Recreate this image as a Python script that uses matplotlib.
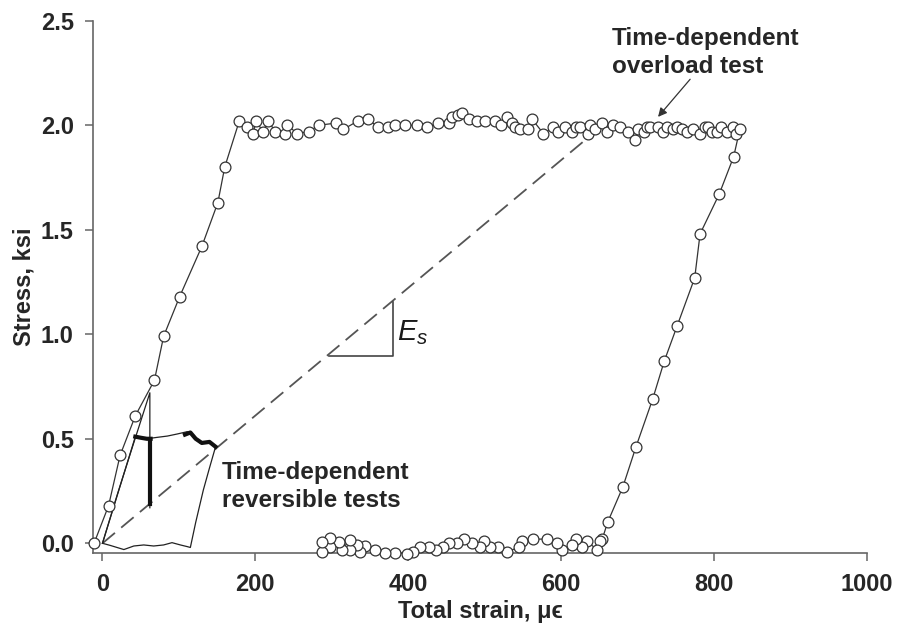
"""Stress vs total strain for time-dependent overload and reversible tests."""

import matplotlib

matplotlib.use("Agg")
import matplotlib.pyplot as plt

# main overload test: loading, hold at 2 ksi, unloading, recovery
load_strain = [-11, 8, 23, 43, 68, 80, 101, 130, 151, 160, 179]
load_stress = [0.00, 0.18, 0.42, 0.61, 0.78, 0.99, 1.18, 1.42, 1.63, 1.80, 2.02]

hold_strain = [189, 197, 201, 210, 217, 226, 239, 242, 255, 270,
               283, 305, 315, 334, 347, 361, 374, 383, 396, 412,
               425, 439, 453, 458, 465, 470, 479, 490, 501, 514,
               522, 529, 536, 540, 547, 557, 562, 577, 590, 596,
               605, 614, 620, 625, 635, 638, 645, 654, 660, 668,
               677, 688, 697, 701, 708, 712, 717, 727, 733, 739,
               747, 752, 759, 765, 773, 782, 788, 793, 798, 804,
               810, 817, 825, 829, 834]
hold_stress = [1.99, 1.96, 2.02, 1.97, 2.02, 1.97, 1.96, 2.00, 1.96, 1.97,
               2.00, 2.01, 1.98, 2.02, 2.03, 1.99, 1.99, 2.00, 2.00, 2.00,
               1.99, 2.01, 2.01, 2.04, 2.05, 2.06, 2.03, 2.02, 2.02, 2.02,
               2.00, 2.04, 2.01, 1.99, 1.98, 1.98, 2.03, 1.96, 1.99, 1.97,
               1.99, 1.97, 1.99, 1.99, 1.96, 2.00, 1.98, 2.01, 1.97, 2.00,
               1.99, 1.97, 1.93, 1.98, 1.97, 1.99, 1.99, 1.99, 1.97, 1.99,
               1.98, 1.99, 1.98, 1.97, 1.98, 1.96, 1.99, 1.99, 1.97, 1.97,
               1.99, 1.97, 1.99, 1.96, 1.98]

unload_strain = [826, 807, 782, 775, 752, 735, 720, 698, 681, 661, 654]
unload_stress = [1.85, 1.67, 1.48, 1.27, 1.04, 0.87, 0.69, 0.46, 0.27, 0.10, 0.02]

recover_strain = [651, 647, 634, 627, 619, 614, 601, 595, 582, 564,
                  549, 545, 529, 518, 507, 499, 494, 484, 473, 464,
                  453, 446, 436, 427, 416, 407, 399, 383, 370, 357,
                  344, 337, 333, 324, 324, 313, 309, 298, 298, 287, 287]
recover_stress = [0.01, -0.03, 0.01, -0.02, 0.02, -0.01, -0.03, 0.00, 0.02, 0.02,
                  0.01, -0.02, -0.04, -0.02, -0.02, 0.01, -0.02, 0.00, 0.02, 0.00,
                  0.00, -0.02, -0.03, -0.02, -0.02, -0.04, -0.05, -0.045, -0.045, -0.03,
                  -0.013, -0.04, -0.008, -0.03, 0.016, -0.03, 0.008, -0.02, 0.024, -0.04,
                  0.008]

# reversible tests (no markers)
rev_a_strain = [0, 20, 40, 62, 62, 62]
rev_a_stress = [0.00, 0.24, 0.47, 0.72, 0.45, 0.17]

rev_b_strain = [0, 43, 58, 72, 85, 98, 111, 119, 128, 137, 148,
                140, 132, 122, 115, 111, 102, 91, 80, 67, 54, 41, 28, 10, 0]
rev_b_stress = [0.00, 0.51, 0.50, 0.507, 0.513, 0.523, 0.534, 0.518, 0.478, 0.486, 0.462,
                0.36, 0.255, 0.10, -0.02, -0.016, -0.008, 0.003, -0.008, -0.013,
                -0.008, -0.013, -0.03, -0.01, 0.00]

heavy_1_strain = [43, 50, 58, 63]
heavy_1_stress = [0.51, 0.505, 0.50, 0.50]
heavy_2_strain = [62, 62]
heavy_2_stress = [0.49, 0.19]
heavy_3_strain = [108, 115, 122, 130, 140, 148]
heavy_3_stress = [0.52, 0.53, 0.50, 0.48, 0.485, 0.462]

# secant modulus line and slope triangle
secant_strain = [0, 645]
secant_stress = [0.00, 1.97]
triangle_strain = [296, 380, 380]
triangle_stress = [0.896, 0.896, 1.156]

x_ticks = [0, 200, 400, 600, 800, 1000]
y_ticks = [0.0, 0.5, 1.0, 1.5, 2.0, 2.5]

plt.rcParams["font.family"] = ["Liberation Sans", "DejaVu Sans"]
plt.rcParams["mathtext.fontset"] = "custom"
plt.rcParams["mathtext.it"] = "Liberation Sans:italic"
plt.rcParams["mathtext.rm"] = "Liberation Sans"

line_color = "#333333"
axis_color = "#666666"
text_color = "#262626"

fig = plt.figure(figsize=(8.98, 6.32), dpi=100)
ax = fig.add_axes([0.1039, 0.1245, 0.8612, 0.8427])

main_strain = load_strain + hold_strain + unload_strain + recover_strain
main_stress = load_stress + hold_stress + unload_stress + recover_stress

ax.plot(secant_strain, secant_stress, color="#555555", lw=1.3,
        ls=(0, (9, 4.5)), zorder=2)
ax.plot(triangle_strain, triangle_stress, color="#444444", lw=1.2, zorder=2)

ax.plot(rev_a_strain, rev_a_stress, color="#222222", lw=0.9, zorder=3)
ax.plot(rev_b_strain, rev_b_stress, color="#222222", lw=0.9, zorder=3)
for xs, ys in ((heavy_1_strain, heavy_1_stress),
               (heavy_2_strain, heavy_2_stress),
               (heavy_3_strain, heavy_3_stress)):
    ax.plot(xs, ys, color="#111111", lw=3.0, zorder=3)

ax.plot(main_strain, main_stress, color=line_color, lw=0.9, marker="o",
        ms=7.8, mfc="white", mec=line_color, mew=0.9, zorder=4,
        clip_on=False)

ax.text(386, 1.01, r"$E_s$", fontsize=21, ha="left", va="center",
        color="#1a1a1a")
ax.text(667, 2.47, "Time-dependent\noverload test", fontsize=17.5,
        fontweight="bold", ha="left", va="top", color=text_color,
        linespacing=1.25)
ax.text(156, 0.395, "Time-dependent\nreversible tests", fontsize=17.5,
        fontweight="bold", ha="left", va="top", color=text_color,
        linespacing=1.3)
ax.annotate("", xy=(727, 2.04), xytext=(769, 2.22),
            arrowprops=dict(arrowstyle="-|>", color="#333333", lw=0.9,
                            mutation_scale=13, shrinkA=0, shrinkB=0))

ax.set_xlim(-12, 1000)
ax.set_ylim(-0.048, 2.5)
ax.set_xticks(x_ticks)
ax.set_yticks(y_ticks)
ax.set_yticklabels([f"{v:.1f}" for v in y_ticks])

for side in ("top", "right"):
    ax.spines[side].set_visible(False)
for side in ("left", "bottom"):
    ax.spines[side].set_color(axis_color)
    ax.spines[side].set_linewidth(1.2)
ax.tick_params(direction="out", length=6, width=1.1, color=axis_color,
               labelsize=17, labelcolor=text_color)
ax.tick_params(axis="x", pad=8)
ax.tick_params(axis="y", pad=8)
for label in ax.get_xticklabels() + ax.get_yticklabels():
    label.set_fontweight("bold")

ax.set_xlabel("Total strain, μϵ", fontsize=17, fontweight="bold",
              color=text_color, labelpad=3)
ax.set_ylabel("Stress, ksi", fontsize=17, fontweight="bold",
              color=text_color, labelpad=4)

fig.savefig("out.png", dpi=100)
